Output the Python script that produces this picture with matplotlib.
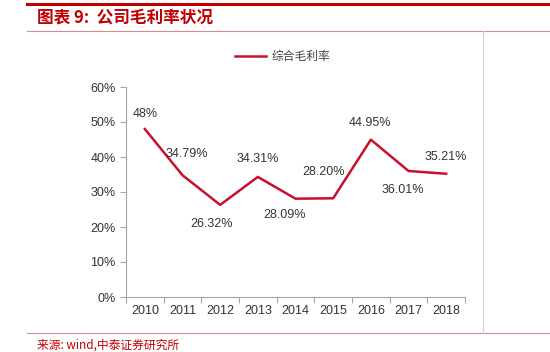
import matplotlib
matplotlib.use("Agg")
import matplotlib.pyplot as plt
from matplotlib.lines import Line2D
from matplotlib.ticker import FuncFormatter

plt.rcParams['font.family'] = ['Liberation Sans', 'Noto Sans CJK SC', 'DejaVu Sans']

# données
years = ['2010', '2011', '2012', '2013', '2014', '2015', '2016', '2017', '2018']
marge = [48.0, 34.79, 26.32, 34.31, 28.09, 28.20, 44.95, 36.01, 35.21]
etiquettes = ['48%', '34.79%', '26.32%', '34.31%', '28.09%', '28.20%', '44.95%', '36.01%', '35.21%']
# décalage des étiquettes (points)
decal = [(0, 11), (3, 15), (-6, -14), (0, 13), (-8, -12), (-7, 19), (-1, 12), (-4, -14), (0, 12)]

rouge = '#C8102E'
gris = '#A6A6A6'
cjk = ['Noto Sans CJK SC', 'DejaVu Sans']

fig = plt.figure(figsize=(5.5, 3.52), dpi=100)

# cadre du rapport
fig.add_artist(Line2D([27/550, 1], [1 - 4/352, 1 - 4/352], color='#C00000', lw=2.2))
fig.add_artist(Line2D([27/550, 1], [1 - 31/352, 1 - 31/352], color='#D98C8C', lw=0.8))
fig.add_artist(Line2D([27/550, 1], [1 - 333/352, 1 - 333/352], color='#D98C8C', lw=0.8))
fig.add_artist(Line2D([483/550, 483/550], [1 - 333/352, 1 - 31/352], color='#D0D0D0', lw=0.8))
fig.text(37/550, 1 - 17/352, '图表 9:  公司毛利率状况', color='#C00000', fontsize=12,
         fontweight='bold', fontstyle='italic', va='center', ha='left', family=cjk)
fig.text(37/550, 1 - 345/352, '来源: wind,中泰证券研究所', color='#C00000', fontsize=8.5,
         va='center', ha='left', family=cjk)

ax = fig.add_axes([126/550, 1 - 297/352, (465 - 126)/550, (297 - 87)/352])
x = list(range(len(years)))
ax.plot(x, marge, color=rouge, lw=1.8, label='综合毛利率')
for i in x:
    ax.annotate(etiquettes[i], (i, marge[i]), xytext=decal[i], textcoords='offset points',
                ha='center', va='center', fontsize=9, color='#333333')

ax.set_xlim(-0.5, len(years) - 0.5)
ax.set_ylim(0, 60)
ax.set_yticks(range(0, 61, 10))
ax.yaxis.set_major_formatter(FuncFormatter(lambda v, p: '%d%%' % v))
ax.set_xticks([i - 0.5 for i in range(len(years) + 1)])
ax.set_xticklabels([])
ax.set_xticks(x, minor=True)
ax.set_xticklabels(years, minor=True)
ax.tick_params(axis='x', which='minor', length=0, pad=6, labelsize=9, labelcolor='#333333')
ax.tick_params(axis='x', which='major', length=4, color=gris)
ax.tick_params(axis='y', length=4, color=gris, labelsize=9, labelcolor='#333333')
for s in ['top', 'right']:
    ax.spines[s].set_visible(False)
for s in ['left', 'bottom']:
    ax.spines[s].set_color(gris)

leg = ax.legend(loc='center', bbox_to_anchor=(0.463, 1.145), frameon=False,
                handlelength=2.6, handletextpad=0.5, prop={'family': cjk, 'size': 8.5})
for t in leg.get_texts():
    t.set_color('#404040')

fig.savefig('out.png', dpi=100)
